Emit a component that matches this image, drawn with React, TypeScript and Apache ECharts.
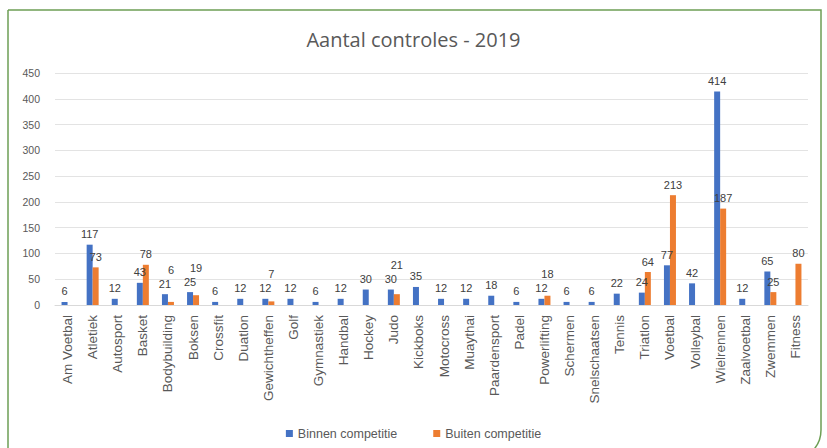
import React, { useEffect, useRef } from "react";
import * as echarts from "echarts";

const categories = [
  "Am Voetbal", "Atletiek", "Autosport", "Basket", "Bodybuilding", "Boksen",
  "Crossfit", "Duatlon", "Gewichtheffen", "Golf", "Gymnastiek", "Handbal",
  "Hockey", "Judo", "Kickboks", "Motocross", "Muaythai", "Paardensport",
  "Padel", "Powerlifting", "Schermen", "Snelschaatsen", "Tennis", "Triatlon",
  "Voetbal", "Volleybal", "Wielrennen", "Zaalvoetbal", "Zwemmen", "Fitness",
];

const binnen: (number | null)[] = [
  6, 117, 12, 43, 21, 25,
  6, 12, 12, 12, 6, 12,
  30, 30, 35, 12, 12, 18,
  6, 12, 6, 6, 22, 24,
  77, 42, 414, 12, 65, null,
];

const buiten: (number | null)[] = [
  null, 73, null, 78, 6, 19,
  null, null, 7, null, null, null,
  null, 21, null, null, null, null,
  null, 18, null, null, null, 64,
  213, null, 187, null, 25, 80,
];

const yTicks = [0, 50, 100, 150, 200, 250, 300, 350, 400, 450];

const PLOT_H = 232;
const LABEL_GAP = 14;

export default function App() {
  const ref = useRef<HTMLDivElement>(null);
  useEffect(() => {
    if (!ref.current) return;
    const chart = echarts.init(ref.current, undefined, { renderer: "svg" });
    const yMax = yTicks[yTicks.length - 1];
    const k = PLOT_H / yMax;
    const labelStyle = {
      show: true,
      position: "top" as const,
      fontSize: 11,
      color: "#404040",
      fontFamily: "Liberation Sans",
    };
    const buitenData = buiten.map((v, i) => {
      const b = binnen[i];
      if (v == null || b == null) return v;
      const dy = (v - b) * k;
      if (Math.abs(dy) < LABEL_GAP) {
        return { value: v, label: { offset: [0, -(LABEL_GAP - dy)] } };
      }
      return v;
    });
    chart.setOption({
      animation: false,
      backgroundColor: "#ffffff",
      title: {
        text: "Aantal controles - 2019",
        left: "center",
        top: 24,
        textStyle: {
          fontSize: 20,
          fontWeight: "normal",
          color: "#595959",
          fontFamily: "Open Sans",
        },
      },
      graphic: [
        {
          type: "rect",
          shape: { x: 8, y: 10, width: 813, height: 450, r: [0, 0, 30, 0] },
          style: { fill: "none", stroke: "#6e9f55", lineWidth: 1.5 },
          silent: true,
        },
      ],
      legend: {
        bottom: 3,
        left: "center",
        itemWidth: 7,
        itemHeight: 7,
        itemGap: 36,
        icon: "rect",
        textStyle: { fontSize: 12.5, color: "#595959", fontFamily: "Liberation Sans" },
        data: ["Binnen competitie", "Buiten competitie"],
      },
      grid: { left: 55, right: 19, top: 73, bottom: 143, containLabel: false },
      xAxis: {
        type: "category",
        data: categories,
        axisTick: { show: false },
        axisLine: { lineStyle: { color: "#d9d9d9" } },
        axisLabel: {
          rotate: 90,
          interval: 0,
          fontSize: 13.5,
          color: "#595959",
          margin: 10,
          fontFamily: "Liberation Sans",
        },
      },
      yAxis: {
        type: "value",
        min: yTicks[0],
        max: yMax,
        interval: 50,
        axisLine: { show: false },
        axisTick: { show: false },
        splitLine: { lineStyle: { color: "#e3e3e3" } },
        axisLabel: { fontSize: 10.5, color: "#595959", margin: 15, fontFamily: "Liberation Sans" },
      },
      series: [
        {
          name: "Binnen competitie",
          type: "bar",
          data: binnen,
          barWidth: 6,
          barGap: "0%",
          itemStyle: { color: "#4472C4" },
          label: labelStyle,
        },
        {
          name: "Buiten competitie",
          type: "bar",
          data: buitenData,
          barWidth: 6,
          itemStyle: { color: "#ED7D31" },
          label: labelStyle,
        },
      ],
    });
    return () => chart.dispose();
  }, []);
  return (
    <div
      ref={ref}
      style={{ position: "absolute", left: 0, top: 0, width: 827, height: 448 }}
    />
  );
}
